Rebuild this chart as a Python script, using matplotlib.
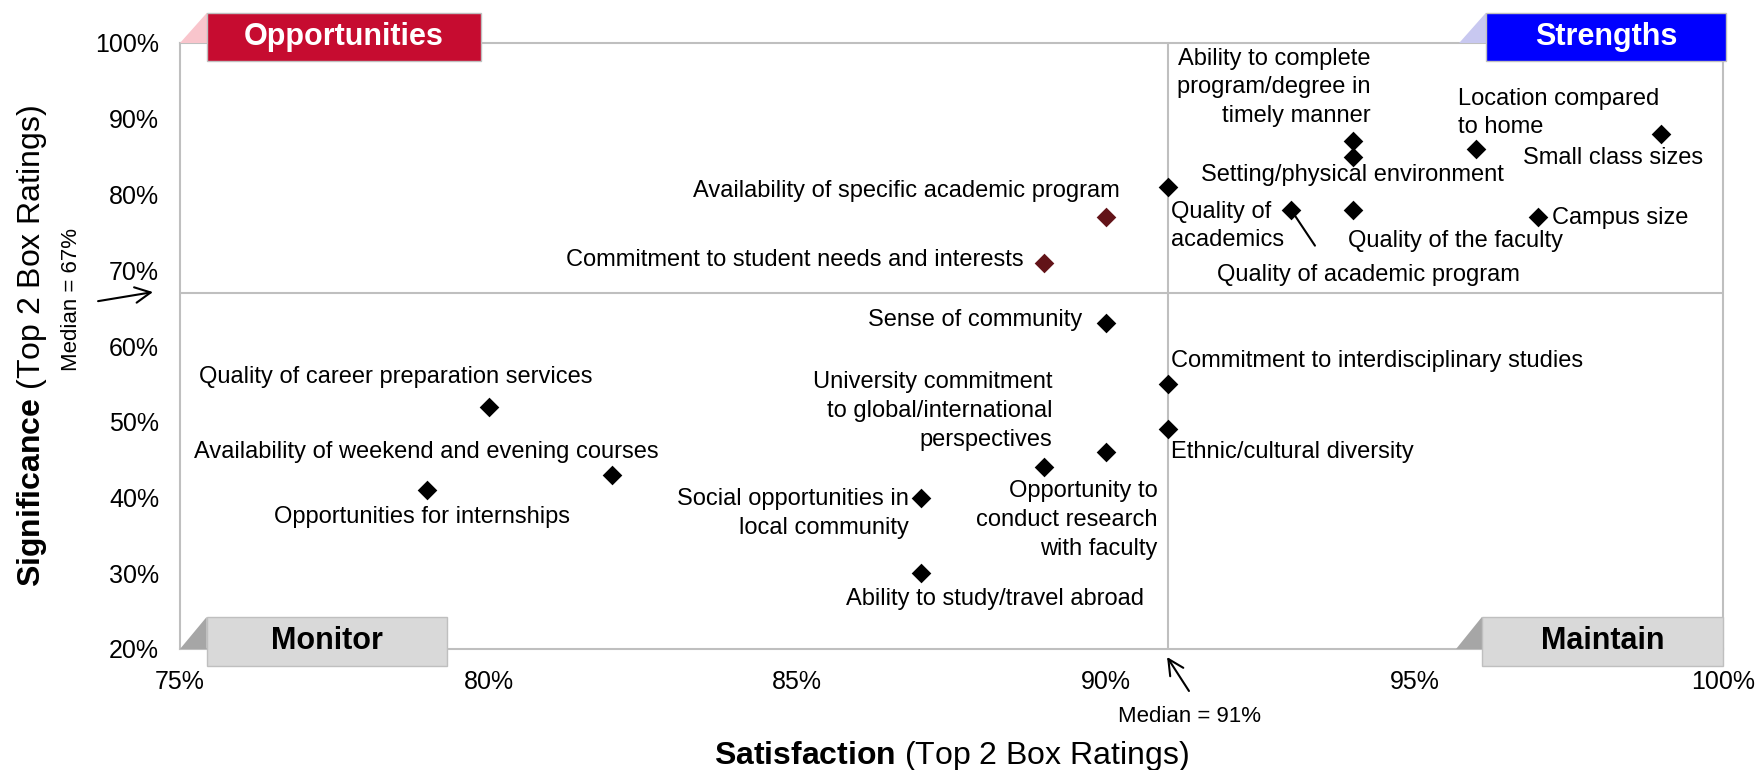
import numpy as np
import matplotlib
matplotlib.use("Agg")
from matplotlib import pyplot as plt
from matplotlib.patches import Rectangle, Polygon
from matplotlib.ticker import PercentFormatter

plt.rcParams['font.family'] = ['Liberation Sans', 'DejaVu Sans']
plt.rcParams['mathtext.fontset'] = 'custom'
plt.rcParams['mathtext.rm'] = 'Liberation Sans'
plt.rcParams['mathtext.bf'] = 'Liberation Sans:bold'

# --- data (Top 2 Box %) ---
attributes = [
    "Small class sizes",
    "Location compared\nto home",
    "Ability to complete\nprogram/degree in\ntimely manner",
    "Setting/physical environment",
    "Quality of\nacademics",
    "Quality of academic program",
    "Quality of the faculty",
    "Campus size",
    "Availability of specific academic program",
    "Commitment to student needs and interests",
    "Sense of community",
    "Commitment to interdisciplinary studies",
    "Ethnic/cultural diversity",
    "University commitment\nto global/international\nperspectives",
    "Opportunity to\nconduct research\nwith faculty",
    "Social opportunities in\nlocal community",
    "Ability to study/travel abroad",
    "Quality of career preparation services",
    "Availability of weekend and evening courses",
    "Opportunities for internships",
]
satisfaction = [99, 96, 94, 94, 91, 93, 94, 97, 90, 89, 90, 91, 91, 89, 90, 87, 87, 80, 82, 79]
significance = [88, 86, 87, 85, 81, 78, 78, 77, 77, 71, 63, 55, 49, 44, 46, 40, 30, 52, 43, 41]
median_satisfaction = 91
median_significance = 67

x_ticks = [75, 80, 85, 90, 95, 100]
y_ticks = [20, 30, 40, 50, 60, 70, 80, 90, 100]

# label placement: offset in pixels from the marker (dx, dy), horizontal alignment
label_layout = [
    (-138, -24, 'left'),
    (-18, 36, 'left'),
    (18, 54, 'right'),
    (0, -18, 'center'),
    (3, -39, 'left'),
    (77, -65, 'center'),
    (-5, -31, 'left'),
    (14, -1, 'left'),
    (14, 26, 'right'),
    (-20, 3, 'right'),
    (-24, 3, 'right'),
    (3, 23, 'left'),
    (3, -23, 'left'),
    (8, 56, 'right'),
    (52, -68, 'right'),
    (-12, -16, 'right'),
    (74, -26, 'center'),
    (-93, 30, 'center'),
    (-186, 23, 'center'),
    (-5, -27, 'center'),
]

GRAY_LINE = '#BFBFBF'
DARK_RED = '#621318'

fig = plt.figure(figsize=(17.6, 7.7), dpi=100)
ax = fig.add_axes([180 / 1760, 121 / 770, 1543 / 1760, 606 / 770])

ax.set_xlim(75, 100)
ax.set_ylim(20, 100)
ax.set_xticks(x_ticks)
ax.set_yticks(y_ticks)
ax.xaxis.set_major_formatter(PercentFormatter(decimals=0))
ax.yaxis.set_major_formatter(PercentFormatter(decimals=0))
ax.tick_params(length=0, labelsize=18)
ax.tick_params(axis='x', pad=15)
ax.tick_params(axis='y', pad=15)
for sp in ax.spines.values():
    sp.set_color(GRAY_LINE)
    sp.set_linewidth(1.5)

ax.axvline(median_satisfaction, color=GRAY_LINE, lw=1.5, zorder=1)
ax.axhline(median_significance, color=GRAY_LINE, lw=1.5, zorder=1)

sat = np.array(satisfaction)
sig = np.array(significance)
is_opp = (sat < median_satisfaction) & (sig > median_significance)
ax.scatter(sat[~is_opp], sig[~is_opp], marker='D', s=100, color='black', zorder=3, linewidths=0)
ax.scatter(sat[is_opp], sig[is_opp], marker='D', s=100, color=DARK_RED, zorder=3, linewidths=0)

for name, x, y, (dx, dy, ha) in zip(attributes, satisfaction, significance, label_layout):
    ax.annotate(name, (x, y), xytext=(dx, dy), textcoords='offset pixels',
                ha=ha, va='center', fontsize=17, linespacing=1.4, zorder=4)

# leader line for "Quality of academic program"
i_prog = attributes.index("Quality of academic program")
ax.annotate('', (satisfaction[i_prog], significance[i_prog]), xytext=(24, -36),
            textcoords='offset pixels',
            arrowprops=dict(arrowstyle='-', color='black', lw=1.5, shrinkA=0, shrinkB=0))

# median call-outs
ax.annotate('', xy=(-0.0175, 0.589), xycoords='axes fraction',
            xytext=(-0.0531, 0.574), textcoords='axes fraction',
            arrowprops=dict(arrowstyle='->', color='black', lw=1.5, mutation_scale=28,
                            shrinkA=0, shrinkB=0), annotation_clip=False)
ax.text(-0.070, 0.576, f"Median = {median_significance}%", transform=ax.transAxes,
        rotation=90, ha='center', va='center', fontsize=16)
ax.annotate('', xy=(0.6397, -0.0132), xycoords='axes fraction',
            xytext=(0.6539, -0.0693), textcoords='axes fraction',
            arrowprops=dict(arrowstyle='->', color='black', lw=1.5, mutation_scale=28,
                            shrinkA=0, shrinkB=0), annotation_clip=False)
ax.text(0.654, -0.1106, f"Median = {median_satisfaction}%", transform=ax.transAxes,
        ha='center', va='center', fontsize=16)


def quadrant_tag(x0, x1, y0, y1, tri_x, tri_y, fill, tri_fill, text, text_color):
    ax.add_patch(Polygon([(tri_x, tri_y), (x0, y1), (x0, tri_y)],
                         closed=True, facecolor=tri_fill, edgecolor='none',
                         transform=ax.transAxes, clip_on=False, zorder=5))
    ax.add_patch(Rectangle((x0, y0), x1 - x0, y1 - y0, facecolor=fill, edgecolor=GRAY_LINE,
                           lw=1, transform=ax.transAxes, clip_on=False, zorder=6))
    ax.text((x0 + x1) / 2, (y0 + y1) / 2, text, transform=ax.transAxes, ha='center',
            va='center', fontsize=22, fontweight='bold', color=text_color, zorder=7)


quadrant_tag(0.0175, 0.1952, 0.971, 1.050, 0.0, 1.0, '#C60C30', '#F9C5CC', 'Opportunities', 'white')
quadrant_tag(0.8464, 1.002, 0.971, 1.050, 0.829, 1.0, '#0000FF', '#C8C8F0', 'Strengths', 'white')
quadrant_tag(0.0173, 0.1728, -0.028, 0.053, 0.0, 0.0, '#D9D9D9', '#A6A6A6', 'Monitor', 'black')
quadrant_tag(0.8438, 1.0, -0.028, 0.053, 0.827, 0.0, '#D9D9D9', '#A6A6A6', 'Maintain', 'black')

ax.set_xlabel(r'$\mathbf{Satisfaction}$ (Top 2 Box Ratings)', fontsize=23, va='center')
ax.xaxis.set_label_coords(0.5, -0.176)
ax.set_ylabel(r'$\mathbf{Significance}$ (Top 2 Box Ratings)', fontsize=23, va='center')
ax.yaxis.set_label_coords(-0.096, 0.5)

plt.savefig('out.png', dpi=100)
plt.close()
